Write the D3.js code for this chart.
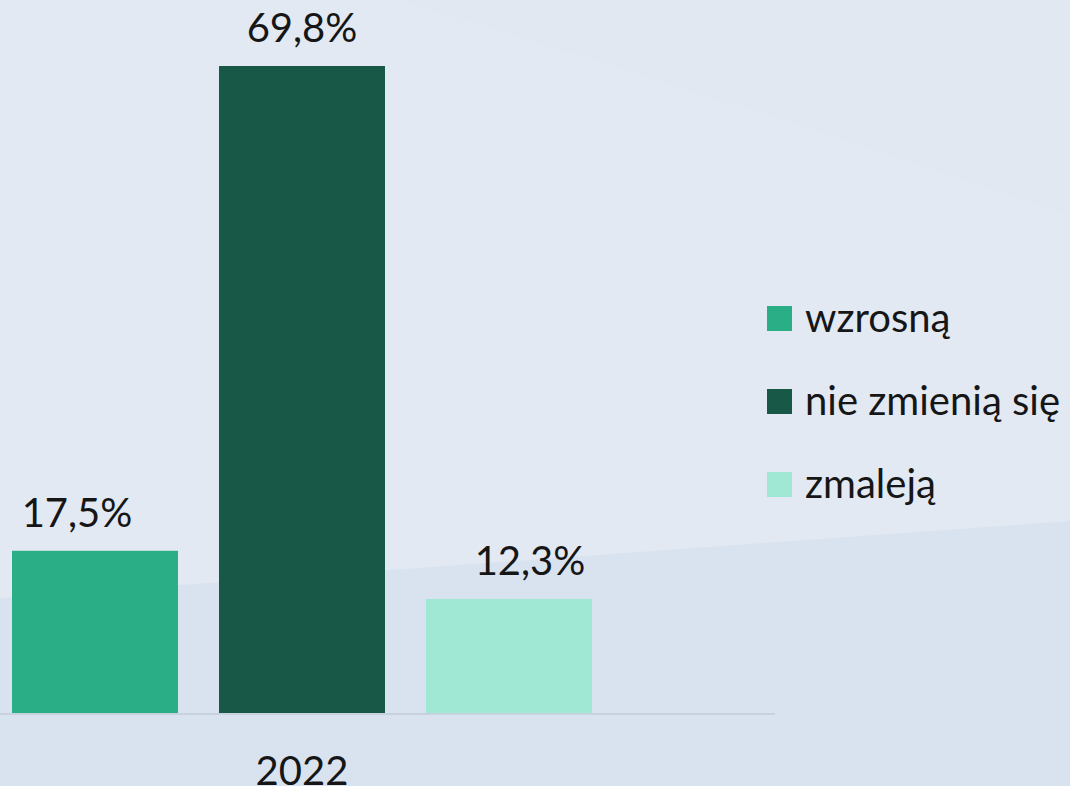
<!DOCTYPE html>
<html>
<head>
<meta charset="utf-8">
<script src="https://cdn.jsdelivr.net/npm/d3@7"></script>
<style>
  html, body { margin: 0; padding: 0; background: #e2e9f3; }
  svg { display: block; }
  text { font-family: "Source Sans Pro", Lato, "Noto Sans", sans-serif; fill: #161616; }
</style>
</head>
<body>
<svg id="chart" width="1070" height="786"></svg>
<script>
// data
var categories = ["2022"];
var seriesNames = ["wzrosną", "nie zmienią się", "zmaleją"];
var seriesValues = [17.5, 69.8, 12.3];
var valueLabels = ["17,5%", "69,8%", "12,3%"];
var colors = ["#2aae86", "#175846", "#a1e8d4"];

var svg = d3.select("#chart");
var W = 1070, H = 786;

// background shapes
svg.append("rect").attr("width", W).attr("height", H).attr("fill", "#e2e9f3");
svg.append("path")
  .attr("d", "M400,0 L1070,0 L1070,215 Q760,110 400,0 Z")
  .attr("fill", "#e1e8f2");
svg.append("path")
  .attr("d", "M0,598 L1070,521 L1070,786 L0,786 Z")
  .attr("fill", "#d9e3ef");

var margin = { top: 66, left: 12, baseline: 713 };

var y = d3.scaleLinear()
  .domain([0, d3.max(seriesValues)])
  .range([margin.baseline, margin.top]);

var x0 = d3.scaleBand().domain(categories).range([0, 604]);
var x1 = d3.scaleBand().domain(seriesNames).range([12, 592]).paddingInner(41 / 207).paddingOuter(0);

var data = seriesNames.map(function (s, i) {
  return { name: s, value: seriesValues[i], label: valueLabels[i], color: colors[i] };
});

// baseline
svg.append("line")
  .attr("x1", 0).attr("x2", 775)
  .attr("y1", margin.baseline + 1).attr("y2", margin.baseline + 1)
  .attr("stroke", "#c8d2de").attr("stroke-width", 2);

var g = svg.append("g");

g.selectAll(".bar")
  .data(data)
  .enter().append("rect")
  .attr("class", "bar")
  .attr("x", function (d) { return x1(d.name); })
  .attr("y", function (d) { return y(d.value); })
  .attr("width", x1.bandwidth())
  .attr("height", function (d) { return margin.baseline - y(d.value); })
  .attr("fill", function (d) { return d.color; });

// value labels (excel placed outer ones slightly off-centre)
var labelShift = [-18, 0, 21];
g.selectAll(".val")
  .data(data)
  .enter().append("text")
  .attr("class", "val")
  .attr("x", function (d, i) { return x1(d.name) + x1.bandwidth() / 2 + labelShift[i]; })
  .attr("y", function (d) { return y(d.value) - 24; })
  .attr("text-anchor", "middle")
  .attr("font-size", 40)
  .text(function (d) { return d.label; });

// category axis label
svg.selectAll(".cat")
  .data(categories)
  .enter().append("text")
  .attr("class", "cat")
  .attr("x", function (d) { return x0(d) + x0.bandwidth() / 2; })
  .attr("y", 785)
  .attr("text-anchor", "middle")
  .attr("font-size", 40)
  .text(function (d) { return d; });

// legend
var legend = svg.append("g").attr("transform", "translate(767,306)");
var item = legend.selectAll(".item")
  .data(data)
  .enter().append("g")
  .attr("class", "item")
  .attr("transform", function (d, i) { return "translate(0," + (i * 83) + ")"; });
item.append("rect")
  .attr("width", 25).attr("height", 25)
  .attr("fill", function (d) { return d.color; });
item.append("text")
  .attr("x", 38).attr("y", 26)
  .attr("font-size", 40)
  .text(function (d) { return d.name; });
</script>
</body>
</html>
